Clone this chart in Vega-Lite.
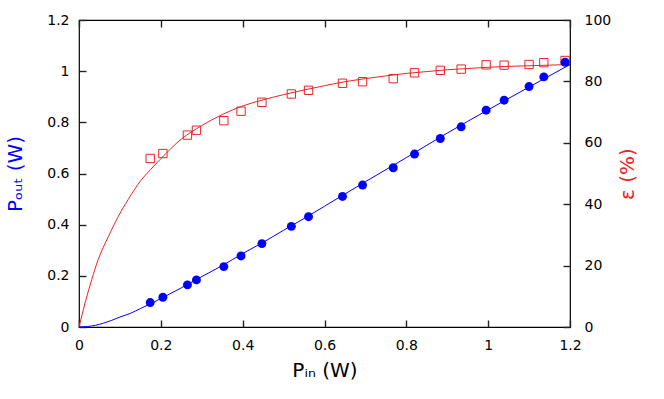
{
  "$schema": "https://vega.github.io/schema/vega-lite/v6.json",
  "width": 491,
  "height": 307,
  "autosize": {"type": "none"},
  "padding": {"left": 79, "top": 20, "right": 94, "bottom": 72},
  "config": {
    "view": {"stroke": "#000000", "strokeWidth": 1.2},
    "font": "DejaVu Sans",
    "axis": {
      "domain": false,
      "grid": false,
      "ticks": true,
      "tickColor": "#222222",
      "tickOpacity": 1,
      "tickSize": 7,
      "offset": -7,
      "tickWidth": 1.4,
      "labelFlush": false,
      "labelFontSize": 14,
      "labelColor": "#000000",
      "labelFont": "DejaVu Sans",
      "titleFont": "DejaVu Sans",
      "titleFontSize": 20,
      "titleFontWeight": "normal",
      "zindex": 1
    }
  },
  "datasets": {
    "measured": [
      {"pin": 0.174, "pout": 0.0956, "eff": 54.9},
      {"pin": 0.205, "pout": 0.1163, "eff": 56.5},
      {"pin": 0.265, "pout": 0.1647, "eff": 62.5},
      {"pin": 0.287, "pout": 0.1842, "eff": 64.1},
      {"pin": 0.354, "pout": 0.2361, "eff": 67.2},
      {"pin": 0.396, "pout": 0.2779, "eff": 70.3},
      {"pin": 0.447, "pout": 0.3259, "eff": 73.2},
      {"pin": 0.519, "pout": 0.3934, "eff": 75.9},
      {"pin": 0.561, "pout": 0.4312, "eff": 77.1},
      {"pin": 0.644, "pout": 0.5104, "eff": 79.4},
      {"pin": 0.693, "pout": 0.5549, "eff": 79.9},
      {"pin": 0.768, "pout": 0.6224, "eff": 80.9},
      {"pin": 0.820, "pout": 0.6759, "eff": 82.8},
      {"pin": 0.883, "pout": 0.7368, "eff": 83.6},
      {"pin": 0.934, "pout": 0.7824, "eff": 84.0},
      {"pin": 0.995, "pout": 0.8476, "eff": 85.4},
      {"pin": 1.039, "pout": 0.8866, "eff": 85.3},
      {"pin": 1.100, "pout": 0.9397, "eff": 85.5},
      {"pin": 1.136, "pout": 0.9776, "eff": 86.1},
      {"pin": 1.188, "pout": 1.0349, "eff": 86.8}
    ],
    "effFit": [
      {"pin": 0.0, "eff": 0.0},
      {"pin": 0.015, "eff": 7.9},
      {"pin": 0.031, "eff": 15.4},
      {"pin": 0.047, "eff": 22.0},
      {"pin": 0.072, "eff": 29.5},
      {"pin": 0.096, "eff": 36.0},
      {"pin": 0.12, "eff": 41.5},
      {"pin": 0.15, "eff": 47.5},
      {"pin": 0.175, "eff": 51.3},
      {"pin": 0.2, "eff": 54.8},
      {"pin": 0.25, "eff": 61.2},
      {"pin": 0.3, "eff": 65.6},
      {"pin": 0.35, "eff": 69.2},
      {"pin": 0.4, "eff": 72.0},
      {"pin": 0.45, "eff": 74.0},
      {"pin": 0.5, "eff": 75.7},
      {"pin": 0.55, "eff": 77.2},
      {"pin": 0.6, "eff": 78.6},
      {"pin": 0.65, "eff": 79.9},
      {"pin": 0.7, "eff": 80.9},
      {"pin": 0.75, "eff": 81.8},
      {"pin": 0.8, "eff": 82.6},
      {"pin": 0.85, "eff": 83.2},
      {"pin": 0.9, "eff": 83.8},
      {"pin": 0.95, "eff": 84.2},
      {"pin": 1.0, "eff": 84.6},
      {"pin": 1.05, "eff": 84.9},
      {"pin": 1.1, "eff": 85.1},
      {"pin": 1.15, "eff": 85.3},
      {"pin": 1.2, "eff": 85.5}
    ],
    "poutFit": [
      {"pin": 0.0, "pout": 0.0},
      {"pin": 0.02, "pout": 0.002},
      {"pin": 0.04, "pout": 0.0065},
      {"pin": 0.06, "pout": 0.015},
      {"pin": 0.08, "pout": 0.026},
      {"pin": 0.1, "pout": 0.039},
      {"pin": 0.125, "pout": 0.053},
      {"pin": 0.15, "pout": 0.072},
      {"pin": 0.175, "pout": 0.091},
      {"pin": 0.2, "pout": 0.111},
      {"pin": 0.25, "pout": 0.153},
      {"pin": 0.3, "pout": 0.197},
      {"pin": 0.35, "pout": 0.240},
      {"pin": 0.4, "pout": 0.287},
      {"pin": 0.45, "pout": 0.331},
      {"pin": 0.5, "pout": 0.378},
      {"pin": 0.55, "pout": 0.424},
      {"pin": 0.6, "pout": 0.472},
      {"pin": 0.65, "pout": 0.520},
      {"pin": 0.7, "pout": 0.568},
      {"pin": 0.8, "pout": 0.662},
      {"pin": 0.9, "pout": 0.758},
      {"pin": 1.0, "pout": 0.849},
      {"pin": 1.1, "pout": 0.938},
      {"pin": 1.2, "pout": 1.026}
    ]
  },
  "layer": [
    {
      "layer": [
        {
          "data": {"name": "effFit"},
          "mark": {"type": "line", "color": "#ee2222", "strokeWidth": 1, "interpolate": "monotone"},
          "encoding": {
            "x": {"field": "pin", "type": "quantitative", "scale": {"domain": [0, 1.2], "nice": false},
                  "axis": {"orient": "top", "values": [0, 0.2, 0.4, 0.6, 0.8, 1, 1.2], "labels": false, "title": null}},
            "y": {"field": "eff", "type": "quantitative", "scale": {"domain": [0, 100], "nice": false},
                  "axis": {"orient": "right", "title": "ε (%)", "titleColor": "#ee2222", "titleAngle": -90,
                           "values": [0, 16.6667, 20, 33.3333, 40, 50, 60, 66.6667, 80, 83.3333, 100],
                           "labelExpr": "datum.value % 20 == 0 ? datum.label : ''",
                           "labelPadding": 14, "titlePadding": 27}}
          }
        },
        {
          "data": {"name": "measured"},
          "mark": {"type": "point", "shape": "square", "filled": false, "size": 70, "color": "#ee2222", "strokeWidth": 1, "opacity": 1},
          "encoding": {
            "x": {"field": "pin", "type": "quantitative"},
            "y": {"field": "eff", "type": "quantitative"}
          }
        }
      ]
    },
    {
      "layer": [
        {
          "data": {"name": "poutFit"},
          "mark": {"type": "line", "color": "#0000ff", "strokeWidth": 1, "interpolate": "monotone"},
          "encoding": {
            "x": {"field": "pin", "type": "quantitative", "scale": {"domain": [0, 1.2], "nice": false},
                  "axis": {"orient": "bottom", "values": [0, 0.2, 0.4, 0.6, 0.8, 1, 1.2], "format": "~g",
                           "title": "Pᵢₙ (W)", "labelPadding": 11, "titlePadding": 8}},
            "y": {"field": "pout", "type": "quantitative", "scale": {"domain": [0, 1.2], "nice": false},
                  "axis": {"orient": "left", "values": [0, 0.2, 0.4, 0.6, 0.8, 1, 1.2], "format": "~g",
                           "title": "Pₒᵤₜ (W)", "titleColor": "#0000ff", "labelPadding": 10, "titlePadding": 21}}
          }
        },
        {
          "data": {"name": "measured"},
          "mark": {"type": "point", "shape": "circle", "filled": true, "size": 80, "color": "#0000ff", "opacity": 1},
          "encoding": {
            "x": {"field": "pin", "type": "quantitative"},
            "y": {"field": "pout", "type": "quantitative"}
          }
        }
      ]
    }
  ],
  "resolve": {"scale": {"y": "independent"}, "axis": {"x": "independent"}}
}
